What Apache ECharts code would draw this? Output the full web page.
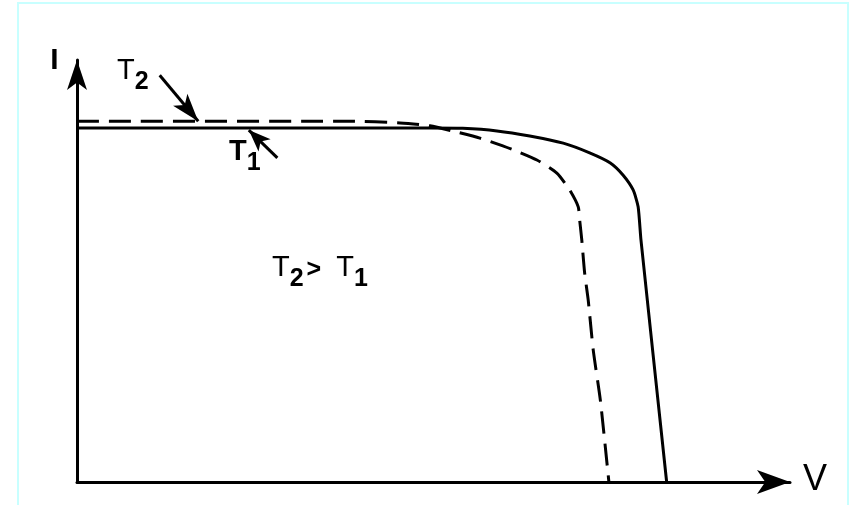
<!DOCTYPE html>
<html>
<head>
<meta charset="utf-8">
<script src="https://cdn.jsdelivr.net/npm/echarts@6/dist/echarts.min.js"></script>
<style>
  html, body { margin: 0; padding: 0; background: #fff; }
  #chart { width: 850px; height: 505px; }
</style>
</head>
<body>
<div id="chart"></div>
<script>
// I-V curves, arbitrary units (V and I both 0..100 at the arrow tips)
const t1V = [0, 49.5, 54.1, 58.9, 63.5, 68.2, 71.9, 74.8, 76.6, 78.0, 78.7, 79.1, 82.7];
const t1I = [83.9, 83.9, 83.8, 83.2, 82.0, 80.3, 78.0, 75.6, 72.7, 69.2, 65.2, 57.3, 0];
const t2V = [0, 38.3, 45.3, 49.5, 53.3, 56.5, 61.2, 64.5, 67.3, 69.1, 70.3, 70.5, 70.8, 71.2, 71.7, 72.4, 73.4, 74.6];
const t2I = [85.5, 85.5, 85.1, 84.4, 82.9, 81.5, 78.7, 76.3, 73.2, 69.2, 65.2, 62.1, 57.3, 49.5, 43.1, 31.3, 19.4, 0];

// pointer arrows for the labels: [tail, tip]
const t2Pointer = [[11.6, 96.4], [17.0, 85.5]];
const t1Pointer = [[28.1, 76.8], [24.1, 83.4]];

const font = "'Liberation Sans', Arial, sans-serif";

function pairs(xs, ys) {
  return xs.map((x, i) => [x, ys[i]]);
}

function pointer(p, size) {
  return [
    { coord: p[0], symbol: "none" },
    { coord: p[1], symbol: "arrow", symbolSize: size }
  ];
}

const rich = {
  t: { fontSize: 29, lineHeight: 29, verticalAlign: "top", fontFamily: font, color: "#000" },
  tb: { fontSize: 29, lineHeight: 29, verticalAlign: "top", fontFamily: font, fontWeight: "bold", color: "#000" },
  s: { fontSize: 25, lineHeight: 25, padding: [14, 0, 0, 0], verticalAlign: "top", fontFamily: font, fontWeight: "bold", color: "#000" },
  g: { fontSize: 25, lineHeight: 25, padding: [5, 15, 0, 3], verticalAlign: "top", fontFamily: font, fontWeight: "bold", color: "#000" }
};

const chart = echarts.init(document.getElementById("chart"));
chart.setOption({
  backgroundColor: "#fff",
  animation: false,
  grid: { left: 77, right: 60, top: 60, bottom: 23, containLabel: false, outerBoundsMode: "none" },
  xAxis: {
    type: "value", min: 0, max: 100,
    axisLine: { show: true, symbol: ["none", "arrow"], symbolSize: [18, 33], lineStyle: { color: "#000", width: 3 } },
    axisTick: { show: false }, axisLabel: { show: false }, splitLine: { show: false }
  },
  yAxis: {
    type: "value", min: 0, max: 100,
    axisLine: { show: true, symbol: ["none", "arrow"], symbolSize: [15, 30], lineStyle: { color: "#000", width: 3 } },
    axisTick: { show: false }, axisLabel: { show: false }, splitLine: { show: false }
  },
  series: [
    {
      name: "T1", type: "line", data: pairs(t1V, t1I),
      showSymbol: false, smooth: 0.2, silent: true,
      lineStyle: { color: "#000", width: 3 },
      markLine: {
        silent: true, label: { show: false },
        lineStyle: { color: "#000", width: 3, type: "solid" },
        data: [pointer(t1Pointer, [13, 22])]
      }
    },
    {
      name: "T2", type: "line", data: pairs(t2V, t2I),
      showSymbol: false, smooth: 0.2, silent: true,
      lineStyle: { color: "#000", width: 3, type: [22, 10] },
      markLine: {
        silent: true, label: { show: false },
        lineStyle: { color: "#000", width: 3, type: "solid" },
        data: [pointer(t2Pointer, [14, 28])]
      }
    }
  ],
  graphic: [
    { type: "rect", silent: true, shape: { x: 18, y: 3, width: 830, height: 520 },
      style: { fill: "none", stroke: "#c8ffff", lineWidth: 2 } },
    { type: "text", style: { x: 54.5, y: 61, text: "I", font: "bold 30px " + font, align: "center", verticalAlign: "middle", fill: "#000" } },
    { type: "text", style: { x: 815, y: 480, text: "V", font: "36px " + font, align: "center", verticalAlign: "middle", fill: "#000" } },
    { type: "text", style: { x: 117, y: 56, text: "{t|T}{s|2}", rich: rich, verticalAlign: "top" } },
    { type: "text", style: { x: 229, y: 137, text: "{tb|T}{s|1}", rich: rich, verticalAlign: "top" } },
    { type: "text", style: { x: 272, y: 253, text: "{t|T}{s|2}{g|>}{t|T}{s|1}", rich: rich, verticalAlign: "top" } }
  ]
});
</script>
</body>
</html>
